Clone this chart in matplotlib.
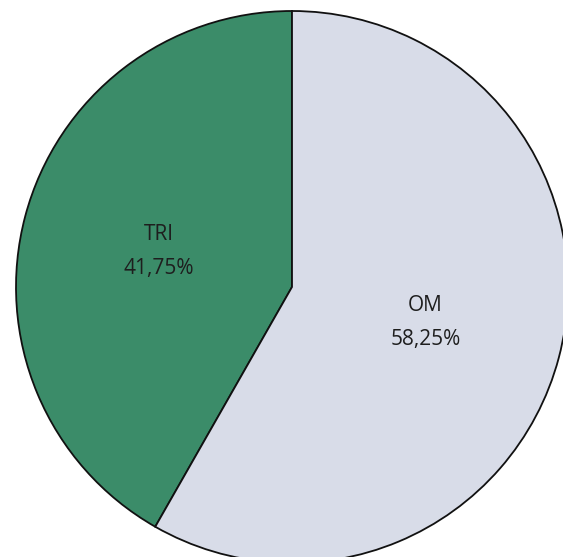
import matplotlib
matplotlib.use("Agg")
import matplotlib.pyplot as plt

categories = ["TRI", "OM"]
values = [41.75, 58.25]
colors = ["#3b8c69", "#d8dce8"]

W, H = 563, 557
fig = plt.figure(figsize=(W / 100, H / 100), dpi=100)
cx, cy, r = 292, 557 - 287, 276
ax = fig.add_axes([(cx - r) / W, (cy - r) / H, 2 * r / W, 2 * r / H])

labels = [f"{c}\n{v:.2f}%".replace(".", ",") for c, v in zip(categories, values)]
wedges, texts = ax.pie(values, colors=colors, startangle=90, counterclock=True,
                       labels=labels, labeldistance=0.5, radius=1,
                       wedgeprops=dict(edgecolor="#111111", linewidth=1.3),
                       textprops=dict(fontsize=15, color="#1e1e1e", family="Open Sans",
                                      ha="center", va="center", linespacing=1.8))
ax.set_xlim(-1, 1)
ax.set_ylim(-1, 1)
ax.set_aspect("equal")
ax.axis("off")
fig.savefig("out.png", dpi=100)
